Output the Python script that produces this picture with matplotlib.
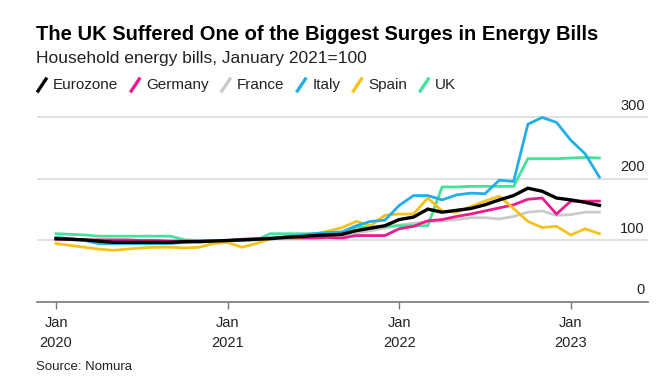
import numpy as np
import pandas as pd
import matplotlib
matplotlib.use("Agg")
import matplotlib.pyplot as plt
from matplotlib.lines import Line2D

plt.rcParams['font.family'] = ['Liberation Sans', 'DejaVu Sans']

# monthly index, Jan 2021 = 100
months = pd.date_range("2020-01-01", periods=39, freq="MS")

eurozone = [103, 102, 101, 99, 97, 97, 97, 97, 97, 98, 98, 99,
            100, 101, 102, 103, 105, 106, 108, 109, 110, 116, 120, 124,
            134, 138, 151, 146, 149, 152, 158, 166, 173, 185, 180, 169,
            166, 162, 157]
germany = [102, 102, 101, 101, 101, 101, 100, 100, 99, 99, 99, 100,
           100, 102, 103, 104, 104, 104, 104, 105, 104, 108, 108, 108,
           119, 123, 132, 134, 139, 143, 148, 153, 158, 167, 169, 143,
           164, 164, 164]
france = [101, 101, 100, 99, 99, 99, 99, 99, 99, 99, 99, 100,
          100, 101, 102, 103, 104, 105, 106, 107, 108, 112, 116, 120,
          125, 128, 130, 132, 134, 137, 137, 135, 139, 146, 148, 141,
          142, 146, 146]
italy = [105, 103, 100, 95, 95, 95, 95, 95, 95, 97, 99, 100,
         100, 101, 102, 104, 106, 108, 111, 113, 114, 124, 131, 133,
         157, 173, 173, 166, 174, 177, 176, 198, 196, 289, 300, 292,
         263, 241, 203]
spain = [95, 92, 89, 86, 84, 86, 88, 89, 89, 88, 89, 95,
         97, 89, 95, 103, 104, 105, 110, 115, 121, 131, 124, 141,
         143, 143, 169, 148, 146, 155, 164, 172, 152, 131, 121, 123,
         109, 119, 111]
uk = [111, 110, 109, 107, 107, 107, 107, 107, 107, 101, 100, 100,
      100, 100, 101, 111, 111, 111, 111, 111, 111, 122, 122, 123,
      124, 124, 124, 187, 187, 188, 188, 188, 188, 233, 233, 233,
      234, 235, 234]

series = [
    ("Eurozone", eurozone, "#000000"),
    ("Germany", germany, "#ea1c8d"),
    ("France", france, "#cacaca"),
    ("Italy", italy, "#22aee8"),
    ("Spain", spain, "#f6c21a"),
    ("UK", uk, "#42e39a"),
]
draw_order = ["France", "UK", "Germany", "Spain", "Italy", "Eurozone"]

yticks = [0, 100, 200, 300]
xticks = [0, 12, 24, 36]
xticklabels = ["Jan\n2020", "Jan\n2021", "Jan\n2022", "Jan\n2023"]

fig = plt.figure(figsize=(6.71, 3.92), dpi=100)
W, H = 671, 392
ax = fig.add_axes([37 / W, (H - 302) / H, (648 - 37) / W, 203 / H])

x = np.arange(len(months))
lookup = {name: (vals, col) for name, vals, col in series}
for name in draw_order:
    vals, col = lookup[name]
    lw = 2.4 if name == "Eurozone" else 2.0
    ax.plot(x, vals, color=col, lw=lw, solid_joinstyle="miter", zorder=3)

ax.set_ylim(0, 330)
ax.set_xlim(-1.33, 41.4)

for v in yticks[1:]:
    ax.axhline(v, color="#dcdcdc", lw=1.2, zorder=1)
for v in yticks:
    ax.text(0.995, v + 8, str(v), transform=ax.get_yaxis_transform(),
            ha="right", va="bottom", fontsize=10.5, color="#222222")

for s in ["top", "right", "left"]:
    ax.spines[s].set_visible(False)
ax.spines["bottom"].set_color("#777777")
ax.spines["bottom"].set_linewidth(1.2)
ax.set_yticks([])
ax.set_xticks(xticks)
ax.set_xticklabels(xticklabels, fontsize=10.5, color="#222222", linespacing=1.6)
ax.tick_params(axis="x", length=5, color="#777777", width=1, pad=5)

fig.text(36 / W, 1 - 35 / H, "The UK Suffered One of the Biggest Surges in Energy Bills",
         fontsize=14.5, fontweight="bold", va="center", ha="left")
fig.text(36 / W, 1 - 59 / H, "Household energy bills, January 2021=100",
         fontsize=12.5, va="center", ha="left", color="#222222")
fig.text(36 / W, 1 - 367 / H, "Source: Nomura",
         fontsize=9.5, va="center", ha="left", color="#222222")

# legend built by hand: slanted strokes followed by labels
fig.canvas.draw()
renderer = fig.canvas.get_renderer()
xpos = 38
ly = H - 85
for name, vals, col in series:
    fig.add_artist(Line2D([xpos / W, (xpos + 8) / W], [(ly - 6) / H, (ly + 6) / H],
                          color=col, lw=2.4, transform=fig.transFigure))
    t = fig.text((xpos + 15) / W, ly / H, name, fontsize=11, va="center",
                 ha="left", color="#222222")
    bb = t.get_window_extent(renderer)
    xpos = bb.x1 + 13

fig.savefig("out.png", dpi=100)
